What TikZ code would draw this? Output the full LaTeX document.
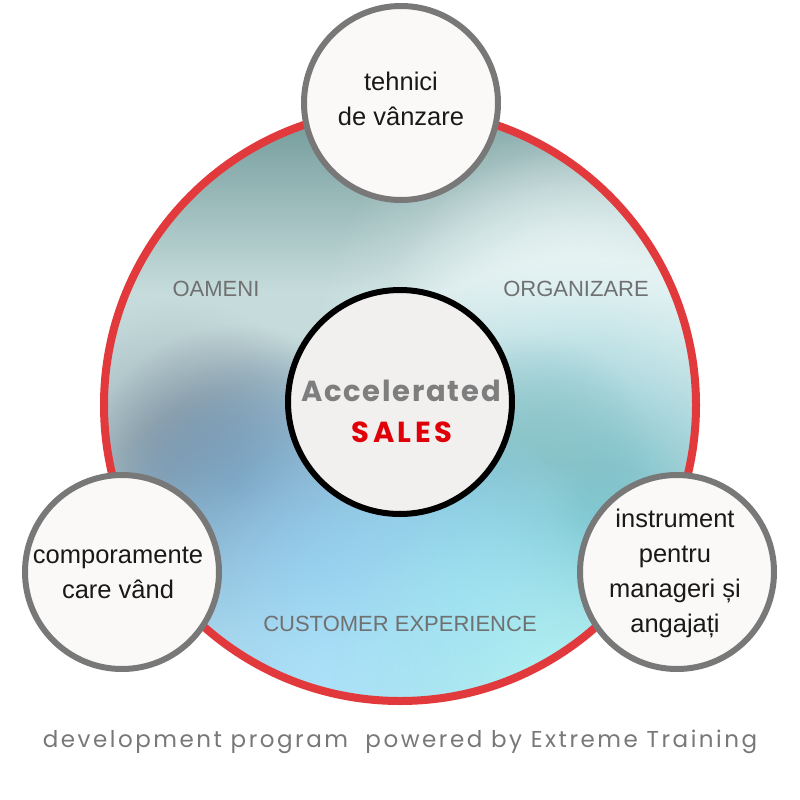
\documentclass[tikz,border=0pt]{standalone}
\usepackage{fontspec}
\setmainfont{Liberation Sans}
\newfontfamily\accfont[LetterSpace=6]{Poppins}
\newfontfamily\salesfont[LetterSpace=12]{Poppins}
\newfontfamily\footfont[LetterSpace=11]{Poppins}
\usetikzlibrary{fadings}
\tikzfading[name=blobfade, inner color=transparent!0, outer color=transparent!100]
\tikzfading[name=topfade, top color=transparent!0, bottom color=transparent!100]
\definecolor{ringred}{HTML}{E23A3C}
\definecolor{circgray}{HTML}{787878}
\definecolor{circfill}{HTML}{FAF9F7}
\definecolor{centfill}{HTML}{F1F0EF}
\definecolor{labgray}{HTML}{707070}
\definecolor{accgray}{HTML}{7E7E7E}
\definecolor{salesred}{HTML}{E00008}
\definecolor{footgray}{HTML}{787878}
\definecolor{bgbase}{HTML}{C6DCDC}
\definecolor{bTop}{HTML}{5E8A8A}
\definecolor{bWhite}{HTML}{F0FAFA}
\definecolor{bDark}{HTML}{66778F}
\definecolor{bGrayBlue}{HTML}{93A8B2}
\definecolor{bBlue}{HTML}{74AED8}
\definecolor{bLBlue}{HTML}{ACE2FA}
\definecolor{bTeal}{HTML}{62B4C0}
\definecolor{bTealL}{HTML}{8CC4C8}
\definecolor{bCyan}{HTML}{B4F4F4}
\definecolor{bMid}{HTML}{7CCCE4}
\tikzset{
  smallc/.style={circle, draw=circgray, line width=6pt, fill=circfill, minimum size=194pt, inner sep=0pt},
  centerc/.style={circle, draw=black, line width=6pt, fill=centfill, minimum size=224pt, inner sep=0pt},
  ctext/.style={align=center, font=\fontsize{25.5}{35}\selectfont, text=black!90},
  lab/.style={font=\fontsize{22}{24}\selectfont, text=labgray},
  blob/.style={path fading=blobfade},
}
\begin{document}
\begin{tikzpicture}[x=1pt,y=-1pt]
\useasboundingbox[fill=white] (0,0) rectangle (800,800);
\begin{scope}
  \clip (400,405) circle (296);
  \fill[bgbase] (400,405) circle (300);
  \fill[bTop, path fading=topfade] (90,70) rectangle (710,290);
  \foreach \c/\x/\y/\r in {bWhite/630/370/160, bWhite/560/330/90, bGrayBlue/175/470/85, bTeal/575/520/130, bTealL/530/455/60, bDark/240/485/80, bBlue/320/570/115, bMid/460/600/90, bLBlue/330/690/160, bCyan/570/700/120}
    \fill[\c, blob] (\x,\y) circle ({2*\r});
\end{scope}
\draw[ringred, line width=8pt] (400,405) circle (296);
\node[lab] (oameni) at (216,289) {OAMENI};
\node[lab] (organizare) at (576,289) {ORGANIZARE};
\node[lab] (cx) at (400,624) {CUSTOMER EXPERIENCE};
\node[centerc] (center) at (400,402) {};
\node[font=\accfont\bfseries\fontsize{29}{30}\selectfont, text=accgray] (acc) at (401,391) {Accelerated};
\node[font=\salesfont\bfseries\fontsize{29}{30}\selectfont, text=salesred] (sales) at (402,432) {SALES};
\node[smallc] (top) at (401,103) {};
\node[ctext] (toptext) at (401,99) {tehnici\\de vânzare};
\node[smallc] (left) at (122,572) {};
\node[ctext] (lefttext) at (118,573) {comporamente\\care vând};
\node[smallc] (right) at (677,572) {};
\node[ctext] (righttext) at (675,573) {instrument\\pentru\\manageri și\\angajați};
\node[font=\footfont\fontsize{23}{24}\selectfont, text=footgray] (foot) at (400,742) {development program\ \ powered by Extreme Training};
\end{tikzpicture}
\end{document}
